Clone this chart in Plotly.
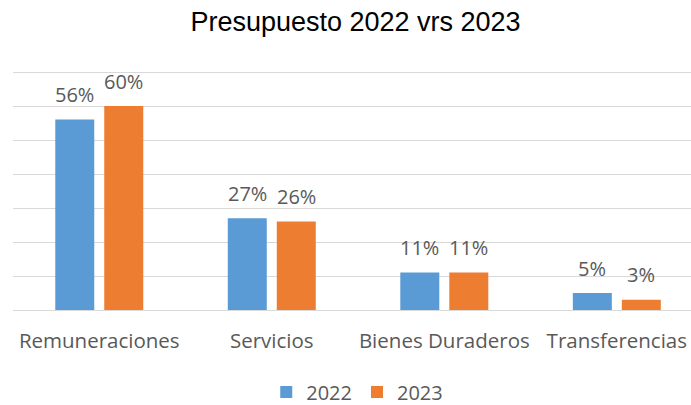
import plotly.graph_objects as go

categories = ["Remuneraciones", "Servicios", "Bienes Duraderos", "Transferencias"]
values_2022 = [0.56, 0.27, 0.11, 0.05]
values_2023 = [0.60, 0.26, 0.11, 0.03]
series_names = ["2022", "2023"]
colors = ["#5B9BD5", "#ED7D31"]
title_text = "Presupuesto 2022 vrs 2023"

FONT = "Open Sans"
TXT = "#595959"

fig = go.Figure()
for name, vals, col in zip(series_names, [values_2022, values_2023], colors):
    fig.add_trace(go.Bar(
        x=categories, y=vals, name=name,
        marker=dict(color=col, line=dict(width=0)),
        hoverinfo="skip",
    ))

annotations = []
for vals, shift in zip([values_2022, values_2023], [-24.5, 24.5]):
    for c, v in zip(categories, vals):
        annotations.append(dict(
            x=c, y=v, xref="x", yref="y", text=f"{round(v*100)}%",
            showarrow=False, xshift=shift, yshift=25, yanchor="middle",
            font=dict(family=FONT, size=20, color=TXT),
        ))

fig.update_layout(
    width=691, height=405,
    margin=dict(l=13, r=0, t=70, b=95),
    paper_bgcolor="white", plot_bgcolor="white",
    barmode="group", bargap=0.432, bargroupgap=0.204,
    title=dict(text=title_text, x=0.5145, xref="container", xanchor="center",
               y=1 - 22 / 405, yref="container", yanchor="middle",
               font=dict(family="Liberation Sans, Arial", size=27, color="#000000")),
    xaxis=dict(range=[-0.5, 3.43], showgrid=False, zeroline=False, showline=False,
               ticks="", tickfont=dict(family=FONT, size=20.5, color=TXT),
               ticklabelstandoff=16, fixedrange=True),
    yaxis=dict(range=[0, 240 / 340], dtick=0.1, showgrid=True, gridcolor="#D9D9D9", gridwidth=1,
               zeroline=True, zerolinecolor="#D9D9D9", zerolinewidth=1,
               showticklabels=False, ticks="", fixedrange=True),
    legend=dict(orientation="h", xref="container", yref="container",
                x=0.517, xanchor="center", y=1 - 392 / 405, yanchor="middle",
                font=dict(family=FONT, size=20, color=TXT), itemclick=False),
    annotations=annotations,
    showlegend=True,
)

fig.write_html("out.html", config={"displayModeBar": False},
               post_script="document.body.style.margin='0';document.body.style.overflow='hidden';")
